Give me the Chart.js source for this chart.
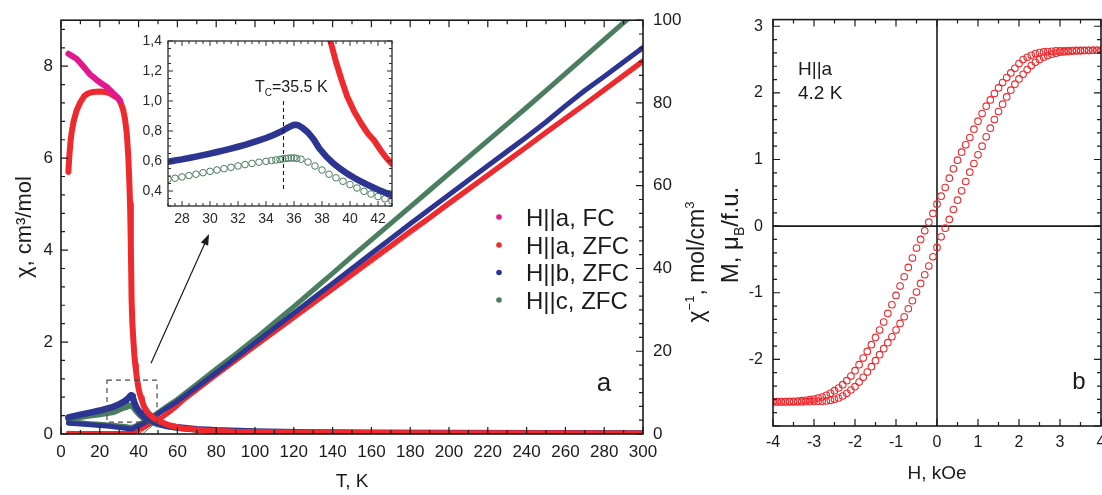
<!DOCTYPE html>
<html><head><meta charset="utf-8">
<script src="https://cdn.jsdelivr.net/npm/chart.js@4.4.0/dist/chart.umd.min.js"></script>
<style>
html,body{margin:0;padding:0;background:#fff;overflow:hidden;width:1102px;height:495px;position:relative;}
canvas{position:absolute;}
#ca{left:0;top:0;}
#cb{left:700px;top:0;}
#cc{left:110px;top:20px;}
</style></head><body>
<canvas id="ca" width="730" height="495"></canvas>
<canvas id="cb" width="420" height="495"></canvas>
<canvas id="cc" width="290" height="210"></canvas>
<script>
// ---------- tick labels ----------
const ticksT        = [0,20,40,60,80,100,120,140,160,180,200,220,240,260,280,300];
const ticksChi      = [0,2,4,6,8];
const ticksInv      = [0,20,40,60,80,100];
const ticksInsetT   = [28,30,32,34,36,38,40,42];
const ticksInsetChi = [0.4,0.6,0.8,1.0,1.2,1.4];
const ticksH        = [-4,-3,-2,-1,0,1,2,3,4];
const ticksM        = [-2,-1,0,1,2,3];

// ---------- Panel a: susceptibility chi(T), left axis ----------
const tFC  = [3.8,5,6.5,8,10,12,13.2,15,17,18.4,20,22,23.6,25.5,27,28,29.5,30.5];
const chiFC= [8.27,8.24,8.2,8.16,8.07,7.97,7.91,7.82,7.75,7.7,7.65,7.59,7.55,7.47,7.41,7.37,7.3,7.25];

const tA   = [3.8,4.3,5,5.5,6.5,8,10,12,14,16.6,20,23,25.5,27.5,29.5,31,32.1,33,33.9,34.7,35.2,35.6,36,36.4,36.8,37.3,37.8,38.3,38.6,39,39.4,39.8,40.3,40.8,41.3,41.7,42.2,42.6,43,45,48,51,55,63,75,90,120,160,200,250,300];
const chiA = [5.7,6.05,6.4,6.56,6.8,7.03,7.22,7.35,7.41,7.44,7.45,7.44,7.4,7.35,7.3,7.18,7.04,6.85,6.54,6.03,5.5,5.0,4.1,2.9,2.4,2.04,1.72,1.5,1.4,1.26,1.14,1.03,0.93,0.85,0.78,0.74,0.67,0.62,0.58,0.45,0.34,0.27,0.2,0.12,0.075,0.05,0.033,0.024,0.019,0.015,0.012];

const tB   = [3.8,6,10,15,20,24,26,27,27.5,28,28.5,29,29.5,30,30.5,31,31.5,32,32.5,33,33.5,34,34.5,35,35.3,35.6,35.9,36.1,36.3,36.6,37,37.4,37.8,38.3,38.8,39.3,39.8,40.3,40.8,41.2,41.7,42.2,42.7,43,45,50,55,60,70,80,100,130,160,200,250,300];
const chiB = [0.36,0.38,0.42,0.465,0.51,0.555,0.578,0.595,0.603,0.611,0.62,0.629,0.639,0.649,0.66,0.671,0.683,0.695,0.708,0.722,0.737,0.753,0.772,0.793,0.808,0.824,0.838,0.842,0.838,0.822,0.79,0.745,0.685,0.63,0.585,0.548,0.516,0.488,0.463,0.444,0.422,0.401,0.382,0.372,0.32,0.23,0.18,0.145,0.105,0.08,0.052,0.035,0.027,0.02,0.016,0.013];

const tC   = [3.8,6,10,15,20,24,27,27.5,28,28.5,29,29.5,30,30.5,31,31.5,32,32.5,33,33.5,34,34.4,34.7,35,35.2,35.4,35.6,35.8,36,36.2,36.5,37,37.5,38,38.5,39,39.5,40,40.5,41,41.5,42,42.5,43,45,50,55,60,70,80,100,130,160,200,250,300];
const chiC = [0.33,0.34,0.37,0.4,0.43,0.455,0.478,0.485,0.494,0.503,0.512,0.522,0.531,0.54,0.549,0.558,0.567,0.576,0.584,0.592,0.598,0.603,0.607,0.611,0.614,0.617,0.619,0.62,0.62,0.617,0.612,0.593,0.567,0.54,0.512,0.488,0.465,0.443,0.42,0.398,0.38,0.363,0.348,0.334,0.29,0.21,0.16,0.13,0.095,0.072,0.046,0.03,0.023,0.017,0.013,0.011];

// ---------- Panel a: inverse susceptibility, right axis ----------
const tInvA = [3.8,6,10,15,20,25,30,33,35,36,37,38,39,40,41,42,43,45,48,51,55,60,63,70,80,90,100,110,120,130,140,150,160,170,180,190,200,210,220,230,240,250,260,270,280,290,300];
const invA  = [0.18,0.15,0.14,0.135,0.134,0.135,0.14,0.15,0.19,0.25,0.45,0.62,0.8,1.0,1.25,1.5,1.72,2.2,2.95,3.7,5.0,6.9,8.2,10.7,14.3,17.8,21.3,24.8,28.3,31.7,35.1,38.6,42.1,45.5,49.0,52.3,55.8,59.2,62.6,66.0,69.4,72.9,76.3,79.7,83.2,86.7,90.2];
const tInvB = [3.8,6,10,15,20,25,28,30,32,34,35,36,37,38,39,40,41,42,43,45,48,50,55,60,65,70,80,90,100,110,120,130,140,150,160,170,180,190,200,210,220,230,240,250,260,270,280,290,300];
const invB  = [2.62,2.56,2.4,2.22,2.05,1.85,1.7,1.58,1.47,1.35,1.27,1.2,1.27,1.55,1.85,2.0,2.2,2.45,2.7,3.2,4.2,4.9,6.4,7.9,9.6,11.3,14.8,18.4,22.0,25.6,29.2,32.8,36.4,40.0,43.6,47.2,50.8,54.3,57.8,61.3,64.8,68.3,71.8,75.4,79.3,83.0,86.4,89.9,93.4];
const tInvC = [3.8,6,10,15,20,25,28,30,32,34,35,36,37,38,39,40,41,42,43,45,48,50,55,60,65,70,80,90,100,110,120,130,140,150,160,170,180,190,200,210,220,230,240,250,260,270,280,290,300];
const invC  = [3.0,2.9,2.72,2.5,2.33,2.17,2.05,1.95,1.85,1.73,1.66,1.62,1.69,1.85,2.05,2.26,2.5,2.75,3.0,3.6,4.5,5.2,6.8,8.4,10.2,12.0,15.7,19.3,23.0,26.9,30.8,34.8,38.8,42.9,46.9,50.9,54.9,58.9,62.9,66.9,70.9,74.9,78.9,83.0,87.1,91.2,95.3,99.4,103.5];
// Curie-Weiss fit lines (end points)
const tFitA = [40,300],  fitA = [0,89.4];
const tFitB = [38,300],  fitB = [0,93.2];
const tFitC = [42,300],  fitC = [0,103.4];

// ---------- Panel b: hysteresis loop at 4.2 K ----------
const hDown = [4,3.9,3.8,3.7,3.6,3.5,3.4,3.3,3.2,3.1,3,2.9,2.8,2.7,2.6,2.5,2.4,2.3,2.2,2.1,2,1.9,1.8,1.7,1.6,1.5,1.4,1.3,1.2,1.1,1,0.9,0.8,0.7,0.6,0.5,0.4,0.3,0.2,0.1,0,-0.1,-0.2,-0.3,-0.4,-0.5,-0.6,-0.7,-0.8,-0.9,-1,-1.1,-1.2,-1.3,-1.4,-1.5,-1.6,-1.7,-1.8,-1.9,-2,-2.1,-2.2,-2.3,-2.4,-2.5,-2.6,-2.7,-2.8,-2.9,-3,-3.1,-3.2,-3.3,-3.4,-3.5,-3.6,-3.7,-3.8,-3.9,-4];
const mDown = [2.64,2.64,2.64,2.64,2.64,2.64,2.64,2.635,2.635,2.63,2.63,2.63,2.625,2.62,2.615,2.605,2.59,2.565,2.535,2.5,2.44,2.37,2.3,2.23,2.155,2.075,1.99,1.895,1.8,1.69,1.575,1.455,1.33,1.22,1.11,0.99,0.86,0.72,0.58,0.45,0.33,0.19,0.06,-0.07,-0.2,-0.33,-0.48,-0.62,-0.76,-0.9,-1.04,-1.18,-1.31,-1.44,-1.56,-1.67,-1.78,-1.88,-1.98,-2.08,-2.17,-2.25,-2.32,-2.38,-2.43,-2.47,-2.51,-2.54,-2.565,-2.58,-2.595,-2.605,-2.615,-2.62,-2.625,-2.63,-2.63,-2.635,-2.635,-2.635,-2.635];
const hUp   = [-4,-3.9,-3.8,-3.7,-3.6,-3.5,-3.4,-3.3,-3.2,-3.1,-3,-2.9,-2.8,-2.7,-2.6,-2.5,-2.4,-2.3,-2.2,-2.1,-2,-1.9,-1.8,-1.7,-1.6,-1.5,-1.4,-1.3,-1.2,-1.1,-1,-0.9,-0.8,-0.7,-0.6,-0.5,-0.4,-0.3,-0.2,-0.1,0,0.1,0.2,0.3,0.4,0.5,0.6,0.7,0.8,0.9,1,1.1,1.2,1.3,1.4,1.5,1.6,1.7,1.8,1.9,2,2.1,2.2,2.3,2.4,2.5,2.6,2.7,2.8,2.9,3,3.1,3.2,3.3,3.4,3.5,3.6,3.7,3.8,3.9,4];
const mUp   = [-2.64,-2.64,-2.64,-2.64,-2.64,-2.64,-2.64,-2.64,-2.635,-2.635,-2.63,-2.63,-2.63,-2.625,-2.615,-2.6,-2.58,-2.55,-2.51,-2.46,-2.41,-2.34,-2.27,-2.19,-2.11,-2.02,-1.93,-1.84,-1.75,-1.66,-1.56,-1.46,-1.36,-1.24,-1.12,-0.99,-0.86,-0.73,-0.6,-0.46,-0.32,-0.16,-0.03,0.1,0.25,0.39,0.53,0.67,0.81,0.94,1.07,1.2,1.34,1.47,1.6,1.72,1.83,1.94,2.04,2.13,2.21,2.28,2.35,2.41,2.46,2.5,2.535,2.56,2.58,2.595,2.61,2.615,2.62,2.625,2.63,2.63,2.635,2.635,2.64,2.64,2.64];

// ---------- styling ----------
const FONT = "'Liberation Sans', Arial, Helvetica, sans-serif";
const INK = '#1b1b1b';
const MAG = '#e3178e', RED = '#ee2a2e', BLU = '#2d3592', GRN = '#4b7d5f';
Chart.defaults.font.family = FONT;
Chart.defaults.color = INK;

function xy(xs, ys) { return xs.map(function (x, i) { return {x: x, y: ys[i]}; }); }
function fixedTicks(arr) { return function (s) { s.ticks = arr.map(function (v) { return {value: v}; }); }; }

function drawTicks(chart, spec) {
  const ctx = chart.ctx, a = chart.chartArea;
  ctx.save();
  ctx.strokeStyle = spec.color;
  ctx.lineWidth = spec.lw;
  ctx.setLineDash([]);
  ctx.beginPath();
  spec.axes.forEach(function (ax) {
    const s = chart.scales[ax.id];
    const n0 = Math.ceil(s.min / ax.minor - 1e-6), n1 = Math.floor(s.max / ax.minor + 1e-6);
    for (let n = n0; n <= n1; n++) {
      const v = n * ax.minor;
      const q = v / ax.major;
      const len = Math.abs(q - Math.round(q)) < 1e-6 ? ax.ml : ax.nl;
      const p = s.getPixelForValue(v);
      ax.sides.forEach(function (side) {
        if (side === 'bottom') { ctx.moveTo(p, a.bottom); ctx.lineTo(p, a.bottom - len); }
        if (side === 'top') { ctx.moveTo(p, a.top); ctx.lineTo(p, a.top + len); }
        if (side === 'left') { ctx.moveTo(a.left, p); ctx.lineTo(a.left + len, p); }
        if (side === 'right') { ctx.moveTo(a.right, p); ctx.lineTo(a.right - len, p); }
      });
    }
  });
  ctx.stroke();
  ctx.lineWidth = spec.fw;
  ctx.strokeRect(a.left, a.top, a.right - a.left, a.bottom - a.top);
  ctx.restore();
}

// rich text: parts = [[text, size, dy], ...]
function rich(ctx, x, y, parts, o) {
  o = o || {};
  ctx.save();
  ctx.translate(x, y);
  if (o.rot) ctx.rotate(o.rot);
  ctx.fillStyle = o.color || INK;
  ctx.textBaseline = 'alphabetic';
  ctx.textAlign = 'left';
  let w = 0;
  parts.forEach(function (p) { ctx.font = p[1] + 'px ' + FONT; p.w = ctx.measureText(p[0]).width; w += p.w; });
  let cx = o.align === 'left' ? 0 : -w / 2;
  const base = o.base || 0;
  parts.forEach(function (p) { ctx.font = p[1] + 'px ' + FONT; ctx.fillText(p[0], cx, base + (p[2] || 0)); cx += p.w; });
  ctx.restore();
}

function lin(o) {
  return Object.assign({ type: 'linear', bounds: 'data', grid: {display: false, drawTicks: false}, border: {display: false} }, o);
}
function lineDS(label, xs, ys, color, w, axis) {
  return { label: label, data: xy(xs, ys), yAxisID: axis, showLine: true, borderColor: color, backgroundColor: color,
           borderWidth: w, pointRadius: 0, tension: 0, borderJoinStyle: 'round', borderCapStyle: 'round' };
}

// ================= Panel a =================
const legendItems = [['H||a, FC', MAG], ['H||a, ZFC', RED], ['H||b, ZFC', BLU], ['H||c, ZFC', GRN]];
const annA = {
  id: 'annA',
  afterDraw: function (chart) {
    drawTicks(chart, { color: INK, lw: 1.2, fw: 1.6, axes: [
      {id: 'x', sides: ['bottom', 'top'], major: 20, minor: 10, ml: 7, nl: 4},
      {id: 'y', sides: ['left'], major: 2, minor: 0.4, ml: 7, nl: 4},
      {id: 'y2', sides: ['right'], major: 20, minor: 20 / 6, ml: 7, nl: 4}
    ]});
    const ctx = chart.ctx, sx = chart.scales.x, sy = chart.scales.y;
    // dashed zoom window
    ctx.save();
    ctx.strokeStyle = '#4a4a4a'; ctx.lineWidth = 1.2; ctx.setLineDash([5, 4]);
    const x0 = sx.getPixelForValue(23.7), x1 = sx.getPixelForValue(49.5);
    const y0 = sy.getPixelForValue(1.17), y1 = sy.getPixelForValue(0.26);
    ctx.strokeRect(x0, y0, x1 - x0, y1 - y0);
    ctx.restore();
    // arrow to the inset
    const ax0 = sx.getPixelForValue(46.4), ay0 = sy.getPixelForValue(1.54);
    const ax1 = sx.getPixelForValue(76.3), ay1 = sy.getPixelForValue(4.35);
    const ang = Math.atan2(ay1 - ay0, ax1 - ax0);
    ctx.save();
    ctx.strokeStyle = '#1b1b1b'; ctx.fillStyle = '#1b1b1b'; ctx.lineWidth = 1.2;
    ctx.beginPath(); ctx.moveTo(ax0, ay0);
    ctx.lineTo(ax1 - 8 * Math.cos(ang), ay1 - 8 * Math.sin(ang)); ctx.stroke();
    ctx.beginPath(); ctx.moveTo(ax1, ay1);
    ctx.lineTo(ax1 - 11 * Math.cos(ang) + 4 * Math.sin(ang), ay1 - 11 * Math.sin(ang) - 4 * Math.cos(ang));
    ctx.lineTo(ax1 - 11 * Math.cos(ang) - 4 * Math.sin(ang), ay1 - 11 * Math.sin(ang) + 4 * Math.cos(ang));
    ctx.closePath(); ctx.fill();
    ctx.restore();
    // legend
    ctx.save();
    const rows = [217, 245, 272.5, 300];
    legendItems.forEach(function (it, i) {
      ctx.fillStyle = it[1];
      ctx.beginPath(); ctx.arc(499, rows[i], 2.8, 0, Math.PI * 2); ctx.fill();
      rich(ctx, 526, rows[i], [[it[0], 24]], {align: 'left', base: 8.6});
    });
    ctx.restore();
    // panel letter
    rich(ctx, 604, 391, [['a', 26]]);
    // right axis title
    rich(ctx, 696, 262, [['\u03C7', 23], ['\u22121', 13, -10], [', mol/cm', 23], ['3', 13, -10]], {rot: -Math.PI / 2, base: 8});
  }
};

new Chart(document.getElementById('ca'), {
  type: 'scatter',
  data: { datasets: [
    lineDS('H||a, FC', tFC, chiFC, MAG, 6, 'y'),
    lineDS('H||a, ZFC', tA, chiA, RED, 6, 'y'),
    lineDS('H||b, ZFC', tB, chiB, BLU, 6.5, 'y'),
    lineDS('H||b, ZFC (1/\u03C7)', tInvB, invB, BLU, 5, 'y2'),
    lineDS('H||c, ZFC', tC, chiC, GRN, 6, 'y'),
    lineDS('H||c, ZFC (1/\u03C7)', tInvC, invC, GRN, 5, 'y2'),
    lineDS('H||a, ZFC (1/\u03C7)', tInvA, invA, RED, 5, 'y2'),
    lineDS('fit a', tFitA, fitA, RED, 1, 'y2'),
    lineDS('fit b', tFitB, fitB, BLU, 1, 'y2'),
    lineDS('fit c', tFitC, fitC, GRN, 1, 'y2')
  ]},
  options: {
    responsive: false, animation: false, events: [], devicePixelRatio: 1,
    layout: { padding: {top: 20, left: 0, right: 0, bottom: 0} },
    plugins: { legend: {display: false}, tooltip: {enabled: false} },
    scales: {
      x: lin({ position: 'bottom', min: 0, max: 300,
        afterFit: function (s) { s.height = 61; }, afterBuildTicks: fixedTicks(ticksT),
        ticks: {autoSkip: false, maxRotation: 0, padding: 8, font: {size: 17}, color: INK},
        title: {display: true, text: 'T, K', font: {size: 19}, color: INK, padding: {top: 0, bottom: 2}} }),
      y: lin({ position: 'left', min: 0, max: 9,
        afterFit: function (s) { s.width = 61; }, afterBuildTicks: fixedTicks(ticksChi),
        ticks: {autoSkip: false, padding: 8, font: {size: 17}, color: INK},
        title: {display: true, text: '\u03C7, cm\u00B3/mol', font: {size: 22}, color: INK, padding: {top: 12, bottom: 0}} }),
      y2: lin({ position: 'right', min: 0, max: 100,
        afterFit: function (s) { s.width = 87; }, afterBuildTicks: fixedTicks(ticksInv),
        ticks: {autoSkip: false, padding: 10, font: {size: 17}, color: INK} })
    }
  },
  plugins: [annA]
});

// ================= Inset =================
const annC = {
  id: 'annC',
  beforeDraw: function (chart) {
    const a = chart.chartArea, ctx = chart.ctx;
    ctx.save(); ctx.fillStyle = '#ffffff'; ctx.fillRect(a.left, a.top, a.right - a.left, a.bottom - a.top); ctx.restore();
  },
  afterDraw: function (chart) {
    drawTicks(chart, { color: '#2a2a2a', lw: 1, fw: 1.3, axes: [
      {id: 'x', sides: ['bottom', 'top'], major: 2, minor: 0.5, ml: 5, nl: 3},
      {id: 'y', sides: ['left', 'right'], major: 0.2, minor: 0.05, ml: 5, nl: 3}
    ]});
    const ctx = chart.ctx, sx = chart.scales.x, sy = chart.scales.y;
    const px = sx.getPixelForValue(35.25);
    ctx.save();
    ctx.strokeStyle = '#1b1b1b'; ctx.lineWidth = 1.1; ctx.setLineDash([4, 3]);
    ctx.beginPath(); ctx.moveTo(px, sy.getPixelForValue(1.0)); ctx.lineTo(px, sy.getPixelForValue(0.4)); ctx.stroke();
    ctx.restore();
    rich(ctx, 145, 72, [['T', 16], ['C', 10, 4], ['=35.5 K', 16]], {align: 'left'});
  }
};

new Chart(document.getElementById('cc'), {
  type: 'scatter',
  data: { datasets: [
    Object.assign(lineDS('H||a, ZFC', tA, chiA, RED, 6, 'y'), {clip: 0}),
    Object.assign(lineDS('H||b, ZFC', tB, chiB, BLU, 6.5, 'y'), {clip: 0}),
    { label: 'H||c, ZFC', data: xy(tC, chiC), yAxisID: 'y', showLine: false, pointRadius: 3.3, pointBorderWidth: 1,
      pointBorderColor: GRN, pointBackgroundColor: 'rgba(255,255,255,0)', clip: 0 }
  ]},
  options: {
    responsive: false, animation: false, events: [], devicePixelRatio: 1,
    layout: { padding: {top: 21, left: 0, right: 8, bottom: 0} },
    plugins: { legend: {display: false}, tooltip: {enabled: false} },
    scales: {
      x: lin({ position: 'bottom', min: 27, max: 43,
        afterFit: function (s) { s.height = 24; }, afterBuildTicks: fixedTicks(ticksInsetT),
        ticks: {autoSkip: false, maxRotation: 0, padding: 5, font: {size: 14}, color: '#2a2a2a'} }),
      y: lin({ position: 'left', min: 0.3, max: 1.4,
        afterFit: function (s) { s.width = 58; }, afterBuildTicks: fixedTicks(ticksInsetChi),
        ticks: {autoSkip: false, padding: 6, font: {size: 14}, color: '#2a2a2a',
          callback: function (v) { return v.toFixed(1).replace('.', ','); }} })
    }
  },
  plugins: [annC]
});

// ================= Panel b =================
const annB = {
  id: 'annB',
  beforeDatasetsDraw: function (chart) {
    const ctx = chart.ctx, a = chart.chartArea, sx = chart.scales.x, sy = chart.scales.y;
    ctx.save(); ctx.strokeStyle = '#1b1b1b'; ctx.lineWidth = 1.6;
    ctx.beginPath();
    const x0 = sx.getPixelForValue(0), y0 = sy.getPixelForValue(0);
    ctx.moveTo(x0, a.top); ctx.lineTo(x0, a.bottom);
    ctx.moveTo(a.left, y0); ctx.lineTo(a.right, y0);
    ctx.stroke(); ctx.restore();
  },
  afterDraw: function (chart) {
    drawTicks(chart, { color: INK, lw: 1.2, fw: 1.6, axes: [
      {id: 'x', sides: ['bottom', 'top'], major: 1, minor: 0.5, ml: 7, nl: 4},
      {id: 'y', sides: ['left', 'right'], major: 1, minor: 0.2, ml: 7, nl: 4}
    ]});
    const ctx = chart.ctx;
    rich(ctx, 98, 75, [['H||a', 19]], {align: 'left'});
    rich(ctx, 98, 99, [['4.2 K', 19]], {align: 'left'});
    rich(ctx, 379, 389, [['b', 24]]);
    rich(ctx, 29, 235, [['M, \u03BC', 24], ['B', 14, 6], ['/f.u.', 24]], {rot: -Math.PI / 2, base: 9});
  }
};

new Chart(document.getElementById('cb'), {
  type: 'scatter',
  data: { datasets: [
    { label: 'H decreasing', data: xy(hDown, mDown), showLine: false, pointRadius: 3.3, pointBorderWidth: 1.1,
      pointBorderColor: RED, pointBackgroundColor: 'rgba(255,255,255,0)', clip: 0 },
    { label: 'H increasing', data: xy(hUp, mUp), showLine: false, pointRadius: 3.3, pointBorderWidth: 1.1,
      pointBorderColor: RED, pointBackgroundColor: 'rgba(255,255,255,0)', clip: 0 }
  ]},
  options: {
    responsive: false, animation: false, events: [], devicePixelRatio: 1,
    layout: { padding: {top: 17, left: 0, right: 19, bottom: 0} },
    plugins: { legend: {display: false}, tooltip: {enabled: false} },
    scales: {
      x: lin({ position: 'bottom', min: -4, max: 4,
        afterFit: function (s) { s.height = 69; }, afterBuildTicks: fixedTicks(ticksH),
        ticks: {autoSkip: false, maxRotation: 0, padding: 7, font: {size: 16}, color: INK},
        title: {display: true, text: 'H, kOe', font: {size: 19}, color: INK, padding: {top: 0, bottom: 10}} }),
      y: lin({ position: 'left', min: -3, max: 3.1,
        afterFit: function (s) { s.width = 73; }, afterBuildTicks: fixedTicks(ticksM),
        ticks: {autoSkip: false, padding: 10, font: {size: 16}, color: INK} })
    }
  },
  plugins: [annB]
});
</script>
</body></html>
